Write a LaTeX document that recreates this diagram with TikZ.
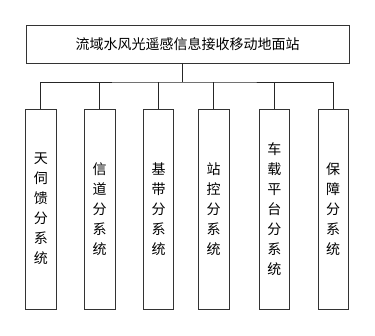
\documentclass[tikz,border=0pt]{standalone}
\usepackage{fontspec}
\newfontfamily\cjk{Noto Sans CJK SC}
\begin{document}
\begin{tikzpicture}[x=1pt,y=-1pt,
  box/.style={draw=black!80,line width=0.8pt,fill=white,inner sep=0pt},
  topbox/.style={box,minimum width=323pt,minimum height=38pt,font=\cjk\fontsize{14}{14}\selectfont},
  subbox/.style={box,minimum width=30.5pt,minimum height=200pt,align=center,font=\cjk\fontsize{14}{20}\selectfont},
  link/.style={draw=black!85,line width=0.8pt}]
\useasboundingbox (0,0) rectangle (375,336);
\node[topbox] (top) at (187.5,44) {流域水风光遥感信息接收移动地面站};
\node[subbox] (s1) at (40.8,209) {天\\伺\\馈\\分\\系\\统};
\node[subbox] (s2) at (99.7,209) {信\\道\\分\\系\\统};
\node[subbox] (s3) at (158.5,209) {基\\带\\分\\系\\统};
\node[subbox] (s4) at (213.7,209) {站\\控\\分\\系\\统};
\node[subbox] (s5) at (274.3,209) {车\\载\\平\\台\\分\\系\\统};
\node[subbox] (s6) at (333.2,209) {保\\障\\分\\系\\统};
\coordinate (bus) at (182,82);
\draw[link] (top.south -| bus) -- (bus);
\draw[link] (s1.north) |- (bus) -| (s6.north);
\foreach \s in {s2,s3,s4,s5}
  \draw[link] (\s.north) -- (\s.north |- bus);
\end{tikzpicture}
\end{document}
